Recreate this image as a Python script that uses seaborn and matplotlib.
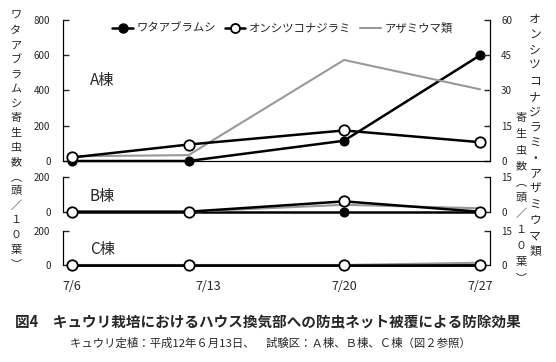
"""
図4 キュウリ栽培におけるハウス換気部への防虫ネット被覆による防除効果
"""

import matplotlib
matplotlib.use('Agg')
import matplotlib.pyplot as plt
from matplotlib.lines import Line2D
import seaborn as sns

sns.set_style('white')
plt.rcParams['font.family'] = ['Noto Sans CJK JP', 'DejaVu Sans']
plt.rcParams['axes.unicode_minus'] = False

# 調査日（7月の日）
days = [6, 12, 20, 27]
date_ticks = [6, 13, 20, 27]
date_labels = ['7/6', '7/13', '7/20', '7/27']

# ワタアブラムシ（左軸）
aphid_a = [0, 0, 115, 600]
aphid_b = [0, 0, 0, 0]
aphid_c = [0, 0, 0, 0]

# オンシツコナジラミ（右軸）
whitefly_a = [1.5, 7, 13, 8]
whitefly_b = [0, 0, 4.5, 0]
whitefly_c = [0, 0, 0, 0]

# アザミウマ類（右軸）
thrips_a = [2, 2.5, 43, 30.5]
thrips_b = [0, 0, 3, 1.5]
thrips_c = [0, 0, 0, 1]

houses = ['A棟', 'B棟', 'C棟']
W, H = 556, 362


def px(x0, y0, w, h):
    return [x0 / W, 1 - (y0 + h) / H, w / W, h / H]


fig = plt.figure(figsize=(W / 100, H / 100), dpi=100)

panels = [
    (px(63, 20, 427, 141), aphid_a, whitefly_a, thrips_a, 800, [0, 200, 400, 600, 800], 60, [0, 15, 30, 45, 60]),
    (px(63, 177.3, 427, 34.4), aphid_b, whitefly_b, thrips_b, 200, [0, 200], 15, [0, 15]),
    (px(63, 230.7, 427, 34.3), aphid_c, whitefly_c, thrips_c, 200, [0, 200], 15, [0, 15]),
]

for i, (rect, ap, wf, th, lmax, lticks, rmax, rticks) in enumerate(panels):
    axL = fig.add_axes(rect)
    axR = axL.twinx()

    sns.lineplot(x=days, y=ap, ax=axL, color='black', lw=1.8, marker='o',
                 markersize=6.5, markerfacecolor='black', markeredgecolor='black',
                 clip_on=False, zorder=3)
    sns.lineplot(x=days, y=th, ax=axR, color='#999999', lw=1.5,
                 clip_on=False, zorder=2)
    sns.lineplot(x=days, y=wf, ax=axR, color='black', lw=1.8, marker='o',
                 markersize=7.5, markerfacecolor='white', markeredgecolor='black',
                 markeredgewidth=1.3, clip_on=False, zorder=4)

    axL.set_xlim(5.54, 27.51)
    axL.set_ylim(0, lmax)
    axR.set_ylim(0, rmax)
    axL.set_yticks(lticks)
    axR.set_yticks(rticks)
    axL.set_ylabel('')
    axR.set_ylabel('')

    for ax in (axL, axR):
        ax.spines['top'].set_visible(False)
        ax.patch.set_visible(False)
        if i > 0:
            ax.spines['bottom'].set_visible(False)
        ax.tick_params(axis='y', direction='in', length=4, width=1, labelsize=7)
    axL.tick_params(axis='y', pad=9)
    axR.tick_params(axis='y', pad=8)
    for side in ('left', 'right', 'bottom'):
        axL.spines[side].set_color('black')
        axR.spines[side].set_color('black')

    if i == 2:
        axL.set_xticks(date_ticks)
        axL.set_xticklabels(date_labels)
        axL.tick_params(axis='x', length=0, pad=11, labelsize=9)
    else:
        axL.set_xticks([])

    ty = [0.574, 0.43, 0.44][i]
    axL.text(0.063, ty, houses[i], transform=axL.transAxes, fontsize=11,
             va='center', ha='left')

# 凡例
handles = [
    Line2D([], [], color='black', lw=1.8, marker='o', markersize=6.5,
           markerfacecolor='black'),
    Line2D([], [], color='black', lw=1.8, marker='o', markersize=6.5,
           markerfacecolor='white', markeredgewidth=1.3),
    Line2D([], [], color='#999999', lw=1.5),
]
fig.legend(handles, ['ワタアブラムシ', 'オンシツコナジラミ', 'アザミウマ類'],
           loc='center', bbox_to_anchor=(0.508, 1 - 28 / H), ncol=3,
           frameon=False, fontsize=8.2, handlelength=1.8, handletextpad=0.3,
           columnspacing=0.8)


# 縦書きラベル
def vtext(chars, x, y0, step, size):
    for k, ch in enumerate(chars):
        fig.text(x / W, 1 - (y0 + k * step) / H, ch, fontsize=size,
                 ha='center', va='center')


vtext('ワタアブラムシ寄生虫数︵頭／１０葉︶', 16, 16, 14.6, 8)
vtext('オンシツコナジラミ・アザミウマ類', 535, 19, 15.5, 8.5)
vtext('寄生虫数︵頭／１０葉︶', 521, 118, 16, 8)

# 図題
fig.text(15 / W, 1 - 322 / H,
         '図4　キュウリ栽培におけるハウス換気部への防虫ネット被覆による防除効果',
         fontsize=10.5, fontweight='bold', ha='left', va='center')
fig.text(70 / W, 1 - 343 / H,
         'キュウリ定植：平成12年６月13日、　試験区：Ａ棟、Ｂ棟、Ｃ棟（図２参照）',
         fontsize=8.2, ha='left', va='center')

plt.savefig('out.png', dpi=100)
plt.close()
